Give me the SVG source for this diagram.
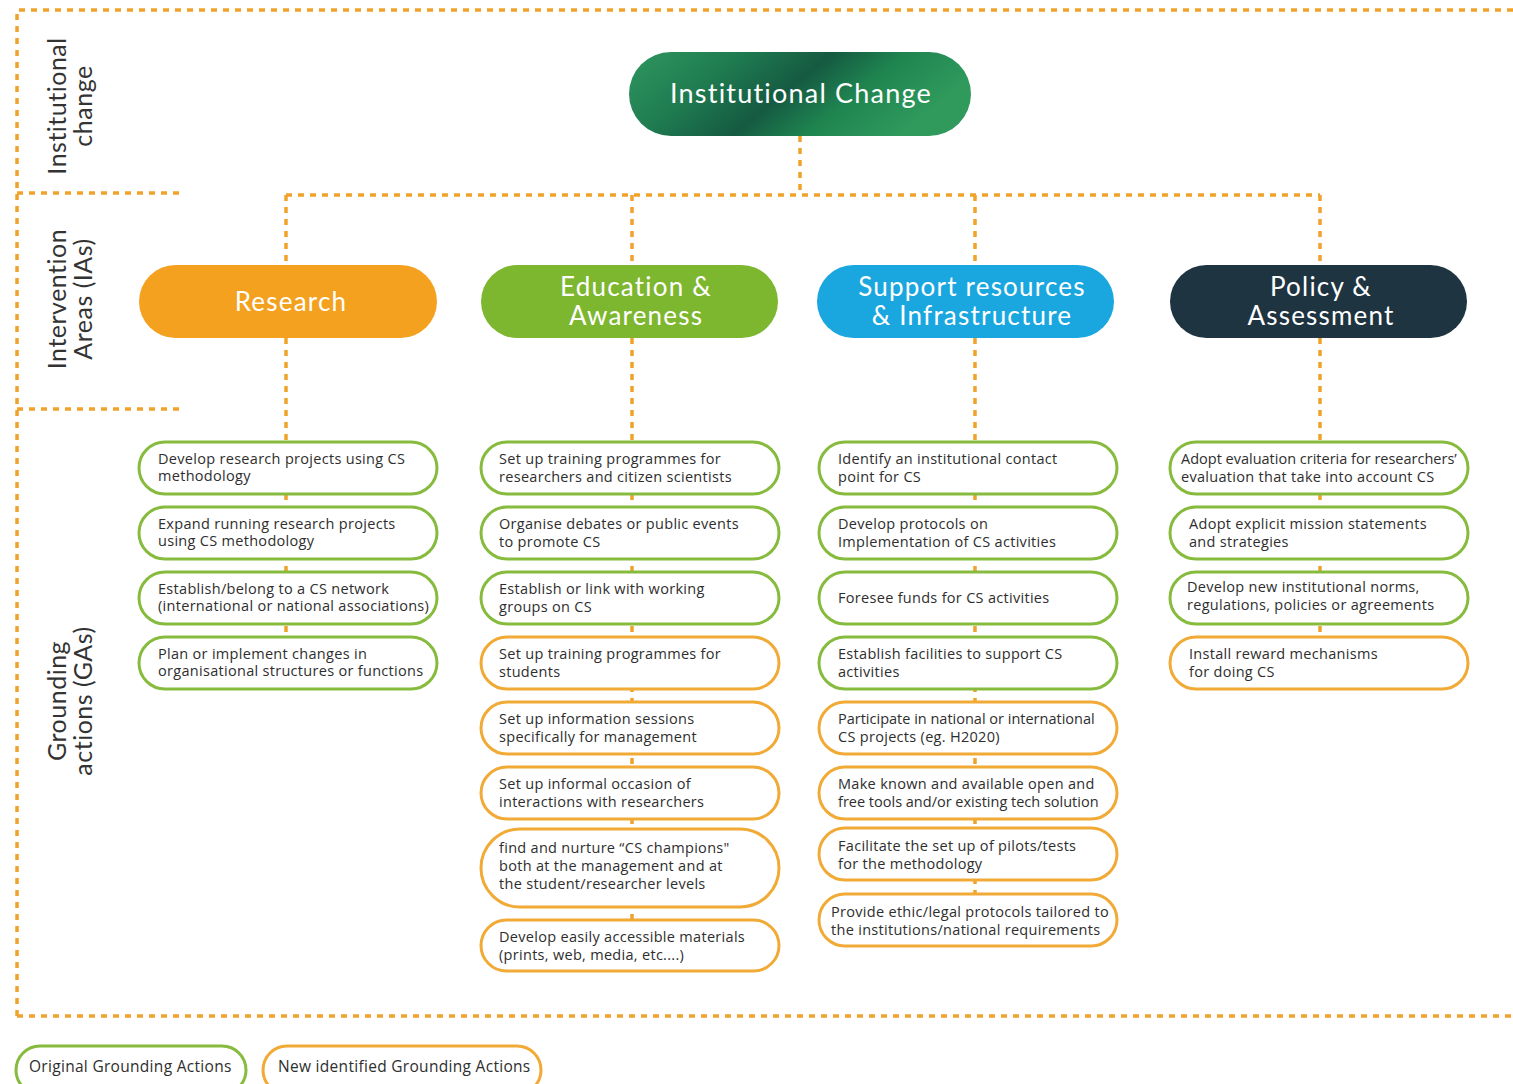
<svg xmlns="http://www.w3.org/2000/svg" width="1513" height="1084" viewBox="0 0 1513 1084">
<defs>
<linearGradient id="gIC" x1="0" y1="0" x2="1" y2="0.3">
<stop offset="0" stop-color="#2f9660"/>
<stop offset="0.3" stop-color="#1f7c50"/>
<stop offset="0.55" stop-color="#155a42"/>
<stop offset="0.75" stop-color="#1f8550"/>
<stop offset="1" stop-color="#2f9a5c"/>
</linearGradient>
<style>
.dash{fill:none;stroke:#f0a32a;stroke-width:3.5;stroke-dasharray:6 6}
.ga{fill:#ffffff;stroke-width:3}
.g{stroke:#86bb3e}
.o{stroke:#f0aa35}
.t{font-family:"Open Sans","Liberation Sans",sans-serif;font-size:14.5px;letter-spacing:0.3px;fill:#2e2e2e}
.tn{letter-spacing:0px}
.lg{font-size:15.5px}
.h{font-family:Lato,"Open Sans",sans-serif;font-size:26px;letter-spacing:1.2px;fill:#ffffff;text-anchor:middle}
.hc{font-size:27px}
.side{font-family:Lato,"Open Sans",sans-serif;font-size:25px;letter-spacing:0.5px;fill:#333333;text-anchor:middle}
</style>
</defs>
<rect width="1513" height="1084" fill="#ffffff"/>

<g id="frame">
<path class="dash" d="M17,1016 V10 H1513"/>
<path class="dash" d="M17,1016 H1513"/>
<path class="dash" d="M17,193 H182"/>
<path class="dash" d="M17,409 H182"/>
</g>

<g id="side-labels">
<text class="side" transform="translate(66,106) rotate(-90)">Institutional</text>
<text class="side" transform="translate(92,106) rotate(-90)">change</text>
<text class="side" transform="translate(66,299) rotate(-90)">Intervention</text>
<text class="side" transform="translate(92,299) rotate(-90)">Areas (IAs)</text>
<text class="side" transform="translate(66,701) rotate(-90)">Grounding</text>
<text class="side" transform="translate(92,701) rotate(-90)">actions (GAs)</text>
</g>

<g id="connectors">
<path class="dash" d="M800,136 V195"/>
<path class="dash" d="M286,195 H1320"/>
<path class="dash" d="M286,195 V265"/>
<path class="dash" d="M632,195 V265"/>
<path class="dash" d="M975,195 V265"/>
<path class="dash" d="M1320,195 V265"/>
<path class="dash" d="M286,338 V690"/>
<path class="dash" d="M632,338 V970"/>
<path class="dash" d="M975,338 V946"/>
<path class="dash" d="M1320,338 V690"/>
</g>

<g id="institutional-change">
<rect x="629" y="52" width="342" height="84" rx="42" fill="url(#gIC)"/>
<text class="h hc" x="801" y="103">Institutional Change</text>
</g>

<g id="ia-research">
<rect x="139" y="265" width="298" height="73" rx="36.5" fill="#f3a11e"/>
<text class="h" x="291" y="311">Research</text>
</g>
<g id="ia-education">
<rect x="481" y="265" width="297" height="73" rx="36.5" fill="#7db62f"/>
<text class="h" x="636" y="296">Education &amp;</text>
<text class="h" x="636" y="325">Awareness</text>
</g>
<g id="ia-support">
<rect x="817" y="265" width="297" height="73" rx="36.5" fill="#1aa7e0"/>
<text class="h" x="972" y="296">Support resources</text>
<text class="h" x="972" y="325">&amp; Infrastructure</text>
</g>
<g id="ia-policy">
<rect x="1170" y="265" width="297" height="73" rx="36.5" fill="#1e3441"/>
<text class="h" x="1321" y="296">Policy &amp;</text>
<text class="h" x="1321" y="325">Assessment</text>
</g>

<!-- Research GAs -->
<g id="ga-r1"><rect class="ga g" x="139" y="442" width="298" height="52" rx="26"/>
<text class="t" x="158" y="464">Develop research projects using CS</text><text class="t" x="158" y="481">methodology</text></g>
<g id="ga-r2"><rect class="ga g" x="139" y="507" width="298" height="52" rx="26"/>
<text class="t" x="158" y="529">Expand running research projects</text><text class="t" x="158" y="546">using CS methodology</text></g>
<g id="ga-r3"><rect class="ga g" x="139" y="572" width="298" height="52" rx="26"/>
<text class="t" x="158" y="594">Establish/belong to a CS network</text><text class="t" x="158" y="611">(international or national associations)</text></g>
<g id="ga-r4"><rect class="ga g" x="139" y="637" width="298" height="52" rx="26"/>
<text class="t" x="158" y="659">Plan or implement changes in</text><text class="t" x="158" y="676">organisational structures or functions</text></g>

<!-- Education GAs -->
<g id="ga-e1"><rect class="ga g" x="481" y="442" width="298" height="52" rx="26"/>
<text class="t" x="499" y="464">Set up training programmes for</text><text class="t" x="499" y="482">researchers and citizen scientists</text></g>
<g id="ga-e2"><rect class="ga g" x="481" y="507" width="298" height="52" rx="26"/>
<text class="t" x="499" y="529">Organise debates or public events</text><text class="t" x="499" y="547">to promote CS</text></g>
<g id="ga-e3"><rect class="ga g" x="481" y="572" width="298" height="52" rx="26"/>
<text class="t" x="499" y="594">Establish or link with working</text><text class="t" x="499" y="612">groups on CS</text></g>
<g id="ga-e4"><rect class="ga o" x="481" y="637" width="298" height="52" rx="26"/>
<text class="t" x="499" y="659">Set up training programmes for</text><text class="t" x="499" y="677">students</text></g>
<g id="ga-e5"><rect class="ga o" x="481" y="702" width="298" height="52" rx="26"/>
<text class="t" x="499" y="724">Set up information sessions</text><text class="t" x="499" y="742">specifically for management</text></g>
<g id="ga-e6"><rect class="ga o" x="481" y="767" width="298" height="52" rx="26"/>
<text class="t" x="499" y="789">Set up informal occasion of</text><text class="t" x="499" y="807">interactions with researchers</text></g>
<g id="ga-e7"><rect class="ga o" x="481" y="829" width="298" height="78" rx="39"/>
<text class="t" x="499" y="853">find and nurture “CS champions"</text><text class="t" x="499" y="871">both at the management and at</text><text class="t" x="499" y="889">the student/researcher levels</text></g>
<g id="ga-e8"><rect class="ga o" x="481" y="920" width="298" height="51" rx="25.5"/>
<text class="t" x="499" y="942">Develop easily accessible materials</text><text class="t" x="499" y="960">(prints, web, media, etc....)</text></g>

<!-- Support GAs -->
<g id="ga-s1"><rect class="ga g" x="819" y="442" width="298" height="52" rx="26"/>
<text class="t" x="838" y="464">Identify an institutional contact</text><text class="t" x="838" y="482">point for CS</text></g>
<g id="ga-s2"><rect class="ga g" x="819" y="507" width="298" height="52" rx="26"/>
<text class="t" x="838" y="529">Develop protocols on</text><text class="t" x="838" y="547">Implementation of CS activities</text></g>
<g id="ga-s3"><rect class="ga g" x="819" y="572" width="298" height="52" rx="26"/>
<text class="t" x="838" y="603">Foresee funds for CS activities</text></g>
<g id="ga-s4"><rect class="ga g" x="819" y="637" width="298" height="52" rx="26"/>
<text class="t" x="838" y="659">Establish facilities to support CS</text><text class="t" x="838" y="677">activities</text></g>
<g id="ga-s5"><rect class="ga o" x="819" y="702" width="298" height="52" rx="26"/>
<text class="t tn" x="838" y="724">Participate in national or international</text><text class="t" x="838" y="742">CS projects (eg. H2020)</text></g>
<g id="ga-s6"><rect class="ga o" x="819" y="767" width="298" height="52" rx="26"/>
<text class="t" x="838" y="789">Make known and available open and</text><text class="t tn" x="838" y="807">free tools and/or existing tech solution</text></g>
<g id="ga-s7"><rect class="ga o" x="819" y="828" width="298" height="52" rx="26"/>
<text class="t" x="838" y="851">Facilitate the set up of pilots/tests</text><text class="t" x="838" y="869">for the methodology</text></g>
<g id="ga-s8"><rect class="ga o" x="819" y="894" width="298" height="52" rx="26"/>
<text class="t" x="831" y="917">Provide ethic/legal protocols tailored to</text><text class="t" x="831" y="935">the institutions/national requirements</text></g>

<!-- Policy GAs -->
<g id="ga-p1"><rect class="ga g" x="1170" y="442" width="298" height="52" rx="26"/>
<text class="t tn" x="1181" y="464">Adopt evaluation criteria for researchers’</text><text class="t" x="1181" y="482">evaluation that take into account CS</text></g>
<g id="ga-p2"><rect class="ga g" x="1170" y="507" width="298" height="52" rx="26"/>
<text class="t" x="1189" y="529">Adopt explicit mission statements</text><text class="t" x="1189" y="547">and strategies</text></g>
<g id="ga-p3"><rect class="ga g" x="1170" y="572" width="298" height="52" rx="26"/>
<text class="t" x="1187" y="592">Develop new institutional norms,</text><text class="t" x="1187" y="610">regulations, policies or agreements</text></g>
<g id="ga-p4"><rect class="ga o" x="1170" y="637" width="298" height="52" rx="26"/>
<text class="t" x="1189" y="659">Install reward mechanisms</text><text class="t" x="1189" y="677">for doing CS</text></g>

<g id="legend-original"><rect class="ga g" x="16" y="1046" width="230" height="48" rx="24"/>
<text class="t lg" x="29" y="1072">Original Grounding Actions</text></g>
<g id="legend-new"><rect class="ga o" x="263" y="1046" width="278" height="48" rx="24"/>
<text class="t lg" x="278" y="1072">New identified Grounding Actions</text></g>
</svg>
